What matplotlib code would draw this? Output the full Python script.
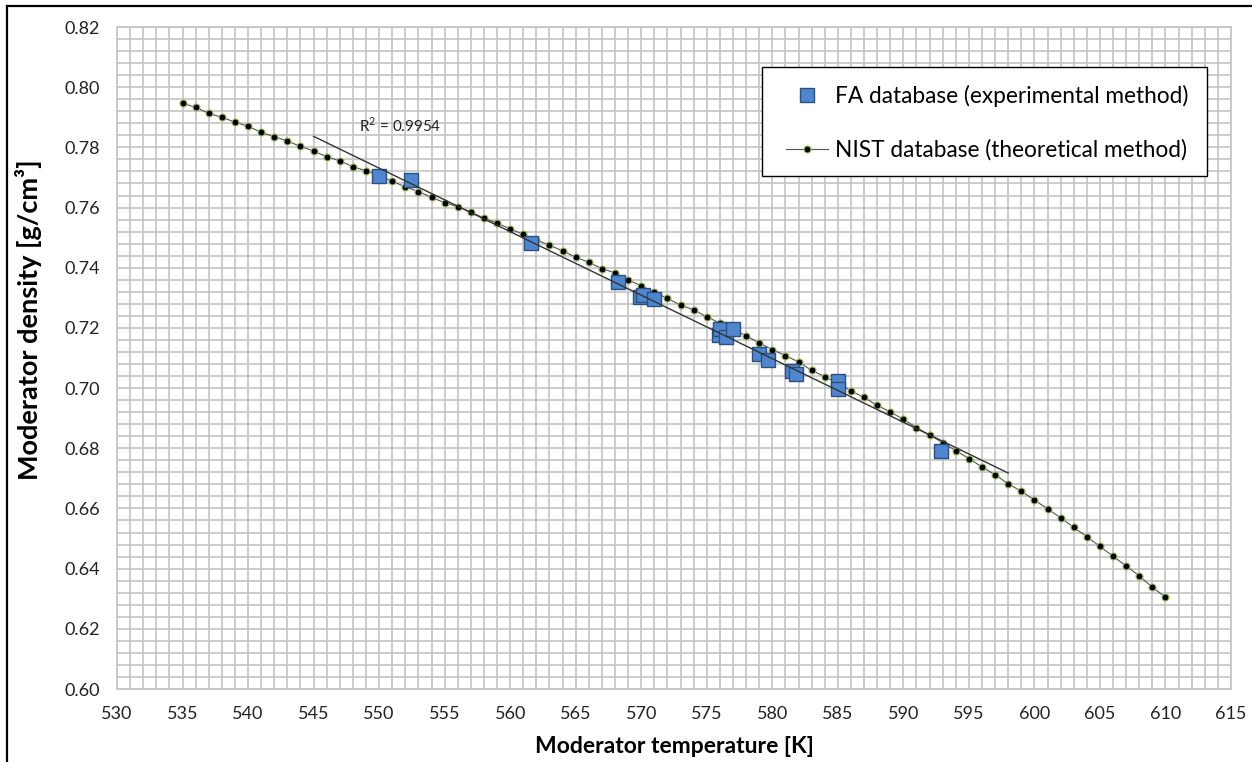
import numpy as np
import matplotlib
matplotlib.use("Agg")
import matplotlib.pyplot as plt
from matplotlib.ticker import MultipleLocator, FormatStrFormatter
from matplotlib.lines import Line2D
from matplotlib.patches import Rectangle

# NIST database (theoretical method), one point per kelvin 535..610
nist_T = list(range(535, 611))
nist_rho = [
    0.7947, 0.7933, 0.7913, 0.7900, 0.7884, 0.7870, 0.7850, 0.7836, 0.7821, 0.7803,
    0.7788, 0.7769, 0.7755, 0.7736, 0.7722, 0.7706, 0.7687, 0.7669, 0.7653, 0.7634,
    0.7616, 0.7603, 0.7585, 0.7565, 0.7548, 0.7529, 0.7511, 0.7492, 0.7475, 0.7456,
    0.7435, 0.7418, 0.7397, 0.7383, 0.7359, 0.7340, 0.7319, 0.7298, 0.7276, 0.7260,
    0.7237, 0.7216, 0.7195, 0.7174, 0.7150, 0.7128, 0.7108, 0.7087, 0.7059, 0.7038,
    0.7016, 0.6991, 0.6969, 0.6943, 0.6921, 0.6896, 0.6869, 0.6844, 0.6819, 0.6792,
    0.6766, 0.6738, 0.6712, 0.6682, 0.6657, 0.6628, 0.6599, 0.6569, 0.6537, 0.6506,
    0.6474, 0.6441, 0.6409, 0.6376, 0.6338, 0.6305,
]

# FA database (experimental method)
fa_T = [550.0, 552.4, 561.6, 568.2, 569.9, 570.1, 571.0, 575.9, 576.0, 576.5,
        577.0, 579.0, 579.7, 581.5, 581.8, 585.0, 585.0, 592.9]
fa_rho = [0.7706, 0.7692, 0.7482, 0.7351, 0.7304, 0.7310, 0.7296, 0.7178, 0.7195, 0.7171,
          0.7198, 0.7113, 0.7095, 0.7057, 0.7047, 0.7024, 0.6996, 0.6792]

trend_range = [545, 598]
r2_label = "R$^2$ = 0.9954"

x_ticks = list(range(530, 616, 5))
y_ticks = [0.60, 0.62, 0.64, 0.66, 0.68, 0.70, 0.72, 0.74, 0.76, 0.78, 0.80, 0.82]

plt.rcParams['font.family'] = ['Lato', 'DejaVu Sans']
plt.rcParams['mathtext.fontset'] = 'custom'
plt.rcParams['mathtext.rm'] = 'Lato'

W, H = 1252, 762
fig = plt.figure(figsize=(W / 100, H / 100), dpi=100)
ax = fig.add_axes([117 / W, 1 - 689 / H, (1231 - 117) / W, (689 - 27) / H])

ax.set_xlim(x_ticks[0], x_ticks[-1])
ax.set_ylim(y_ticks[0], y_ticks[-1])
ax.set_xticks(x_ticks)
ax.set_yticks(y_ticks)
ax.xaxis.set_minor_locator(MultipleLocator(1))
ax.yaxis.set_minor_locator(MultipleLocator(0.004))
ax.yaxis.set_major_formatter(FormatStrFormatter('%.2f'))
grid_c = '#c3c3c3'
ax.grid(which='both', color=grid_c, linewidth=1.2)
ax.set_axisbelow(True)
for s in ax.spines.values():
    s.set_color(grid_c)
    s.set_linewidth(1.2)
ax.tick_params(which='both', length=0)
ax.tick_params(axis='y', labelsize=13, pad=12, colors='#222222')
ax.tick_params(axis='x', labelsize=13, pad=12, colors='#222222')

# NIST series
ax.plot(nist_T, nist_rho, color='#555555', linewidth=0.8, marker='o', markersize=5,
        markerfacecolor='black', markeredgecolor='#9bbb59', markeredgewidth=0.8,
        label='NIST database (theoretical method)', zorder=3)

# FA series
ax.plot(fa_T, fa_rho, linestyle='none', marker='s', markersize=10,
        markerfacecolor='#4f86d0', markeredgecolor='#2c4f7c', markeredgewidth=1.0,
        label='FA database (experimental method)', zorder=4)

# linear trend line of FA data
coef = np.polyfit(fa_T, fa_rho, 1)
tx = np.array(trend_range, dtype=float)
ax.plot(tx, np.polyval(coef, tx), color='#333333', linewidth=1.0, zorder=5)
ax.text(548.5, 0.7874, r2_label, fontsize=11, va='center', ha='left', color='#222222')

# legend box
ax.add_patch(Rectangle((762 / W, 1 - 176 / H), (1207 - 762) / W, (176 - 67) / H,
                       transform=fig.transFigure, facecolor='white', edgecolor='black',
                       linewidth=1.0, zorder=6))
handles, labels = ax.get_legend_handles_labels()
leg = ax.legend(handles[::-1], labels[::-1], loc='upper left',
                bbox_to_anchor=(786 / W, 1 - 85 / H), bbox_transform=fig.transFigure,
                fontsize=16.3, frameon=False, labelspacing=1.42,
                borderpad=0, handlelength=1.85, handletextpad=0.3, borderaxespad=0)
leg.set_zorder(7)

ax.set_xlabel('Moderator temperature [K]', fontsize=16.5, fontweight='bold', labelpad=10)
ax.set_ylabel('Moderator density [g/cm³]', fontsize=19.5, fontweight='bold')
ax.yaxis.set_label_coords((42 - 117) / (1231 - 117), (689 - 320) / (689 - 27))

# outer frame (top and left)
fig.add_artist(Line2D([7 / W, 1.0], [1 - 6 / H, 1 - 6 / H], color='black', linewidth=1.6,
                      transform=fig.transFigure))
fig.add_artist(Line2D([7 / W, 7 / W], [0, 1 - 6 / H], color='black', linewidth=1.6,
                      transform=fig.transFigure))

fig.savefig('out.png', dpi=100)
